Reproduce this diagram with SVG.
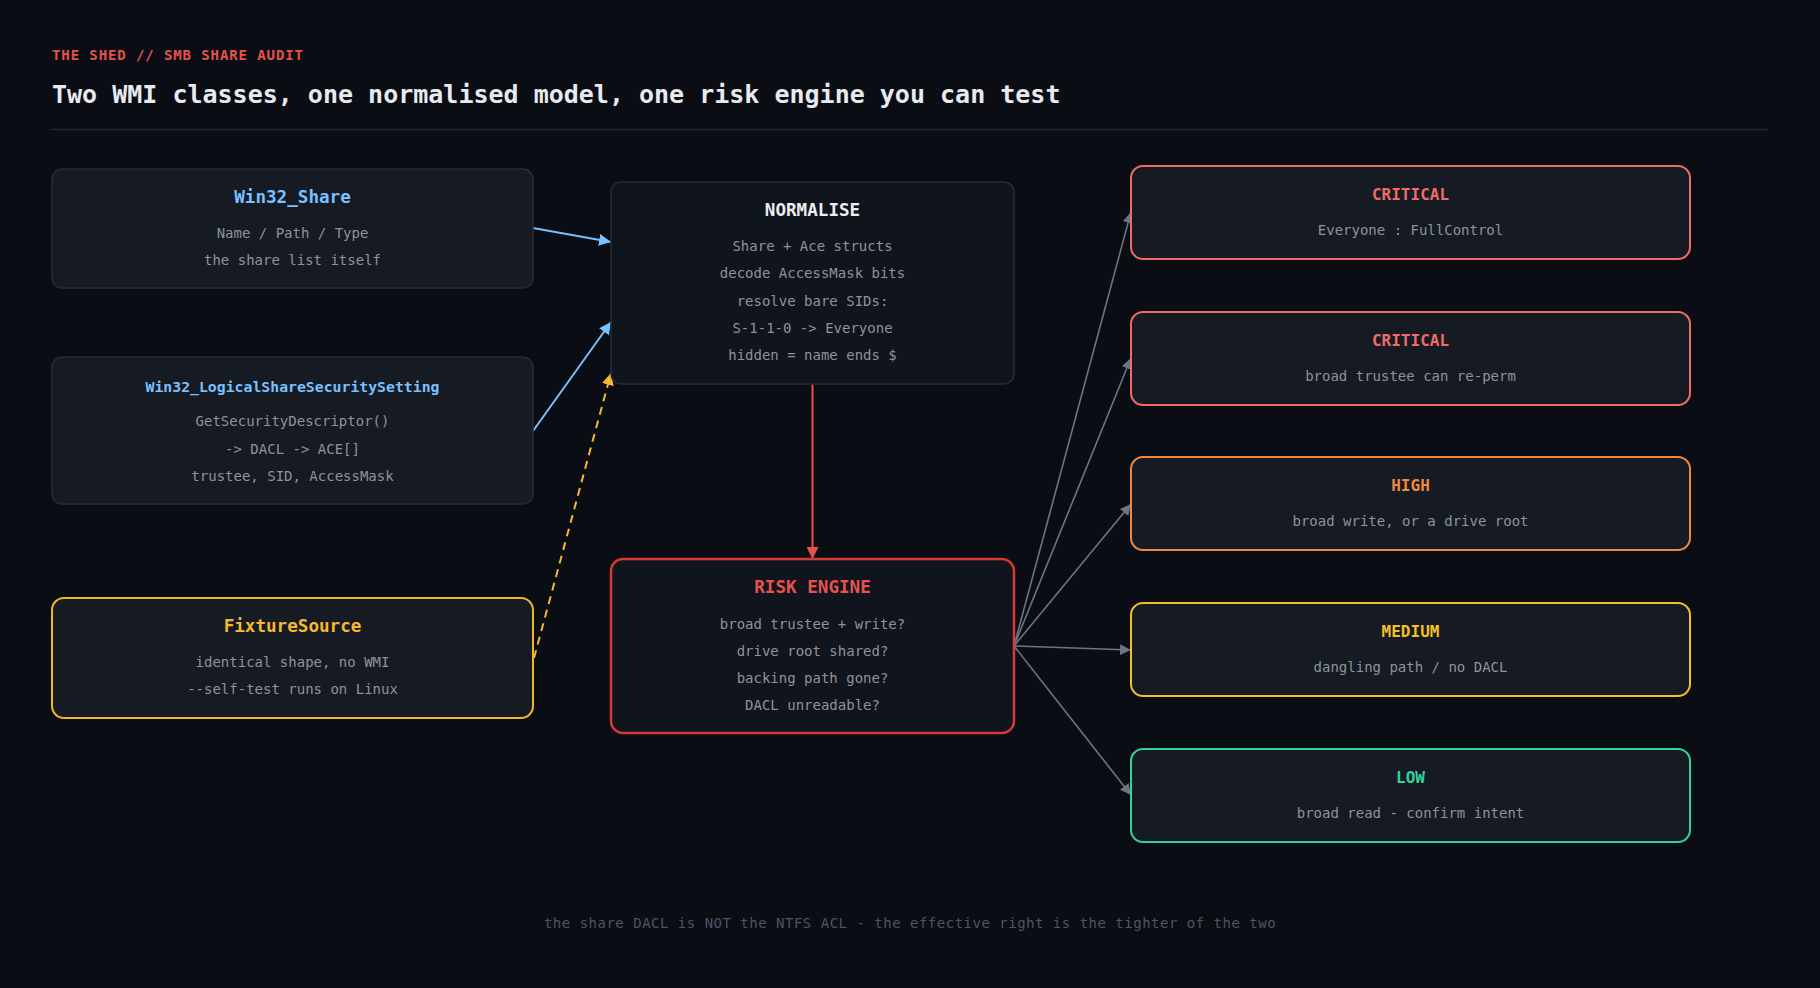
<svg xmlns="http://www.w3.org/2000/svg" width="1820" height="988" viewBox="0 0 1820 988">
<defs>
<style>
text{font-family:"DejaVu Sans Mono","Liberation Mono",monospace;text-anchor:middle}
.hdr{font-size:14px;font-weight:bold;fill:#e5534b;text-anchor:start;letter-spacing:0.9px}
.ttl{font-size:25px;font-weight:bold;fill:#e8eaee;text-anchor:start}
.t{font-size:17.6px;font-weight:bold}
.b{font-size:14px;fill:#8d939e}
.sev{font-size:16px;font-weight:bold}
.box{fill:#151a23;stroke:#262c38;stroke-width:1.5}
.dark{fill:#10141c;stroke:#262c38;stroke-width:1.5}
.foot{font-size:14px;fill:#4d5564;letter-spacing:0.5px}
</style>
<marker id="ab" viewBox="0 0 10 10" refX="10" refY="5" markerUnits="userSpaceOnUse" markerWidth="12" markerHeight="12" orient="auto"><path d="M0,0 L10,5 L0,10 z" fill="#79c0ff"/></marker>
<marker id="ay" viewBox="0 0 10 10" refX="10" refY="5" markerUnits="userSpaceOnUse" markerWidth="12" markerHeight="12" orient="auto"><path d="M0,0 L10,5 L0,10 z" fill="#f5b82e"/></marker>
<marker id="ar" viewBox="0 0 10 10" refX="10" refY="5" markerUnits="userSpaceOnUse" markerWidth="12" markerHeight="12" orient="auto"><path d="M0,0 L10,5 L0,10 z" fill="#e5534b"/></marker>
<marker id="ag" viewBox="0 0 10 10" refX="10" refY="5" markerUnits="userSpaceOnUse" markerWidth="11" markerHeight="11" orient="auto"><path d="M0,0 L10,5 L0,10 z" fill="#6b7585"/></marker>
</defs>
<rect width="1820" height="988" fill="#0a0d14"/>
<text class="hdr" x="52" y="60">THE SHED // SMB SHARE AUDIT</text>
<text class="ttl" x="52" y="103">Two WMI classes, one normalised model, one risk engine you can test</text>
<line x1="52" y1="129.5" x2="1768" y2="129.5" stroke="#232833" stroke-width="1.5"/>

<g id="connectors" fill="none">
<line x1="533" y1="228" x2="611" y2="242" stroke="#79c0ff" stroke-width="2" marker-end="url(#ab)"/>
<line x1="533" y1="431" x2="611" y2="322" stroke="#79c0ff" stroke-width="2" marker-end="url(#ab)"/>
<line x1="534" y1="658" x2="611" y2="373" stroke="#f5b82e" stroke-width="2" stroke-dasharray="8,6" marker-end="url(#ay)"/>
<line x1="812.5" y1="384" x2="812.5" y2="559" stroke="#e5534b" stroke-width="2" marker-end="url(#ar)"/>
<g stroke="#6b7585" stroke-width="1.6">
<line x1="1014" y1="646" x2="1131" y2="212" marker-end="url(#ag)"/>
<line x1="1014" y1="646" x2="1131" y2="358" marker-end="url(#ag)"/>
<line x1="1014" y1="646" x2="1131" y2="504" marker-end="url(#ag)"/>
<line x1="1014" y1="646" x2="1131" y2="650" marker-end="url(#ag)"/>
<line x1="1014" y1="646" x2="1131" y2="795" marker-end="url(#ag)"/>
</g>
</g>

<g id="win32-share">
<rect class="box" x="52" y="169" width="481" height="119" rx="10"/>
<text class="t" x="292.5" y="203" fill="#79c0ff">Win32_Share</text>
<text class="b" x="292.5" y="238">Name / Path / Type</text>
<text class="b" x="292.5" y="265">the share list itself</text>
</g>

<g id="win32-lsss">
<rect class="box" x="52" y="357" width="481" height="147" rx="10"/>
<text x="292.5" y="392" fill="#79c0ff" style="font-size:14.8px;font-weight:bold">Win32_LogicalShareSecuritySetting</text>
<text class="b" x="292.5" y="426">GetSecurityDescriptor()</text>
<text class="b" x="292.5" y="454">-&gt; DACL -&gt; ACE[]</text>
<text class="b" x="292.5" y="481">trustee, SID, AccessMask</text>
</g>

<g id="fixture-source">
<rect x="52" y="598" width="481" height="120" rx="12" fill="#151a23" stroke="#f2b824" stroke-width="2"/>
<text class="t" x="292.5" y="632" fill="#f5b82e">FixtureSource</text>
<text class="b" x="292.5" y="667">identical shape, no WMI</text>
<text class="b" x="292.5" y="694">--self-test runs on Linux</text>
</g>

<g id="normalise">
<rect class="dark" x="611" y="182" width="403" height="202" rx="10"/>
<text class="t" x="812.5" y="216" fill="#eceef2">NORMALISE</text>
<text class="b" x="812.5" y="251">Share + Ace structs</text>
<text class="b" x="812.5" y="278">decode AccessMask bits</text>
<text class="b" x="812.5" y="306">resolve bare SIDs:</text>
<text class="b" x="812.5" y="333">S-1-1-0 -&gt; Everyone</text>
<text class="b" x="812.5" y="360">hidden = name ends $</text>
</g>

<g id="risk-engine">
<rect x="611" y="559" width="403" height="174" rx="12" fill="#10141c" stroke="#d63a35" stroke-width="2.5"/>
<text class="t" x="812.5" y="593" fill="#e5534b">RISK ENGINE</text>
<text class="b" x="812.5" y="629">broad trustee + write?</text>
<text class="b" x="812.5" y="656">drive root shared?</text>
<text class="b" x="812.5" y="683">backing path gone?</text>
<text class="b" x="812.5" y="710">DACL unreadable?</text>
</g>

<g id="critical-1">
<rect x="1131" y="166" width="559" height="93" rx="12" fill="#151a23" stroke="#f26b6b" stroke-width="2"/>
<text class="sev" x="1410.5" y="200" fill="#f26b6b">CRITICAL</text>
<text class="b" x="1410.5" y="235">Everyone : FullControl</text>
</g>

<g id="critical-2">
<rect x="1131" y="312" width="559" height="93" rx="12" fill="#151a23" stroke="#f26b6b" stroke-width="2"/>
<text class="sev" x="1410.5" y="346" fill="#f26b6b">CRITICAL</text>
<text class="b" x="1410.5" y="381">broad trustee can re-perm</text>
</g>

<g id="high">
<rect x="1131" y="457" width="559" height="93" rx="12" fill="#151a23" stroke="#f0883e" stroke-width="2"/>
<text class="sev" x="1410.5" y="491" fill="#f0883e">HIGH</text>
<text class="b" x="1410.5" y="526">broad write, or a drive root</text>
</g>

<g id="medium">
<rect x="1131" y="603" width="559" height="93" rx="12" fill="#151a23" stroke="#f5bf26" stroke-width="2"/>
<text class="sev" x="1410.5" y="637" fill="#f5bf26">MEDIUM</text>
<text class="b" x="1410.5" y="672">dangling path / no DACL</text>
</g>

<g id="low">
<rect x="1131" y="749" width="559" height="93" rx="12" fill="#151a23" stroke="#34d399" stroke-width="2"/>
<text class="sev" x="1410.5" y="783" fill="#34d399">LOW</text>
<text class="b" x="1410.5" y="818">broad read - confirm intent</text>
</g>

<text class="foot" x="910" y="928">the share DACL is NOT the NTFS ACL - the effective right is the tighter of the two</text>
</svg>
